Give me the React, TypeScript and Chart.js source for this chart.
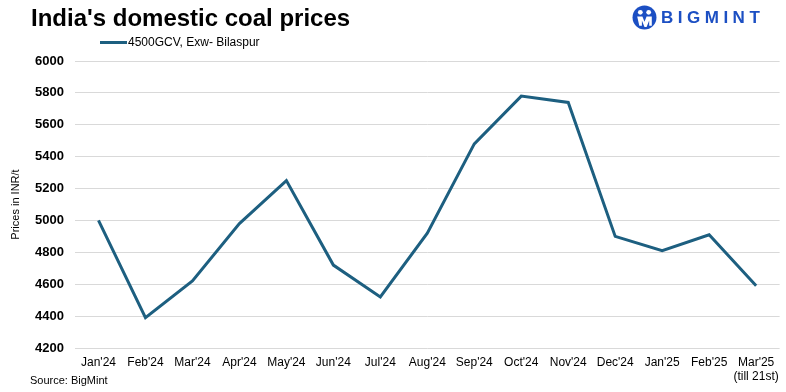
import React, { useEffect, useRef } from "react";
import { Chart, registerables } from "chart.js";

Chart.register(...registerables);

const categories: (string | string[])[] = [
  "Jan'24", "Feb'24", "Mar'24", "Apr'24", "May'24", "Jun'24", "Jul'24", "Aug'24",
  "Sep'24", "Oct'24", "Nov'24", "Dec'24", "Jan'25", "Feb'25", ["Mar'25", "(till 21st)"],
];
const prices = [5000, 4390, 4620, 4980, 5250, 4720, 4520, 4920, 5480, 5780, 5740, 4900, 4810, 4910, 4590];
const seriesName = "4500GCV, Exw- Bilaspur";
const yMin = 4200;
const yMax = 6000;
const yStep = 200;

const LINE = "#1d5f80";
const FONT = "'Liberation Sans', Arial, sans-serif";

export default function App() {
  const ref = useRef<HTMLCanvasElement | null>(null);
  useEffect(() => {
    if (!ref.current) return;
    const chart = new Chart(ref.current, {
      type: "line",
      data: {
        labels: categories,
        datasets: [
          {
            label: seriesName,
            data: prices,
            borderColor: LINE,
            backgroundColor: LINE,
            borderWidth: 3,
            pointRadius: 0,
            tension: 0,
          },
        ],
      },
      options: {
        responsive: false,
        animation: false,
        layout: { padding: { left: 0, right: 6, top: 61, bottom: 0 } },
        plugins: { legend: { display: false }, tooltip: { enabled: false } },
        scales: {
          x: {
            offset: true,
            grid: { display: false, drawTicks: false },
            border: { display: false },
            ticks: {
              color: "#000",
              font: { family: FONT, size: 12 },
              padding: 7,
              maxRotation: 0,
              autoSkip: false,
            },
            afterFit: (s: any) => { s.height = 44; },
          },
          y: {
            min: yMin,
            max: yMax,
            grid: { color: "#d9d9d9", lineWidth: 1, drawTicks: false },
            border: { display: false },
            ticks: {
              stepSize: yStep,
              color: "#000",
              font: { family: FONT, size: 13, weight: "bold" },
              padding: 11,
              callback: (v: any) => String(v),
            },
            title: {
              display: true,
              text: "Prices in INR/t",
              color: "#000",
              font: { family: FONT, size: 11 },
              padding: { top: 9, bottom: 0 },
            },
            afterFit: (s: any) => { s.width = 75; },
          },
        },
      },
    });
    return () => chart.destroy();
  }, []);

  return (
    <div style={{ position: "absolute", left: 0, top: 0, width: 786, height: 392, background: "#fff", fontFamily: FONT }}>
      <canvas ref={ref} width={786} height={392} style={{ position: "absolute", left: 0, top: 0 }} />
      <div style={{ position: "absolute", left: 31, top: 4, fontSize: 24, fontWeight: "bold", color: "#000", whiteSpace: "nowrap" }}>
        India's domestic coal prices
      </div>
      <div style={{ position: "absolute", left: 100, top: 35, display: "flex", alignItems: "center", fontSize: 12, color: "#000", whiteSpace: "nowrap" }}>
        <span style={{ display: "inline-block", width: 27, height: 3, background: LINE, marginRight: 1 }} />
        <span>{seriesName}</span>
      </div>
      <div style={{ position: "absolute", left: 30, top: 374, fontSize: 11, color: "#000", whiteSpace: "nowrap" }}>
        Source: BigMint
      </div>
      <div style={{ position: "absolute", left: 632, top: 5, display: "flex", alignItems: "center" }}>
        <svg width="25" height="25" viewBox="0 0 24 24">
          <circle cx="12" cy="12" r="11.5" fill="#1c4fc3" />
          <circle cx="8" cy="7" r="2.3" fill="#fff" />
          <circle cx="16" cy="7" r="2.3" fill="#fff" />
          <path d="M5 11 h5 l2 5 l2 -5 h5 v9 h-2.5 v-5 l-2.5 6 h-2 l-2.5 -6 v5 h-2.5 z" fill="#fff" />
        </svg>
        <span style={{ marginLeft: 4, fontSize: 17, fontWeight: "bold", color: "#1c4fc3", letterSpacing: 4.5 }}>BIGMINT</span>
      </div>
    </div>
  );
}
